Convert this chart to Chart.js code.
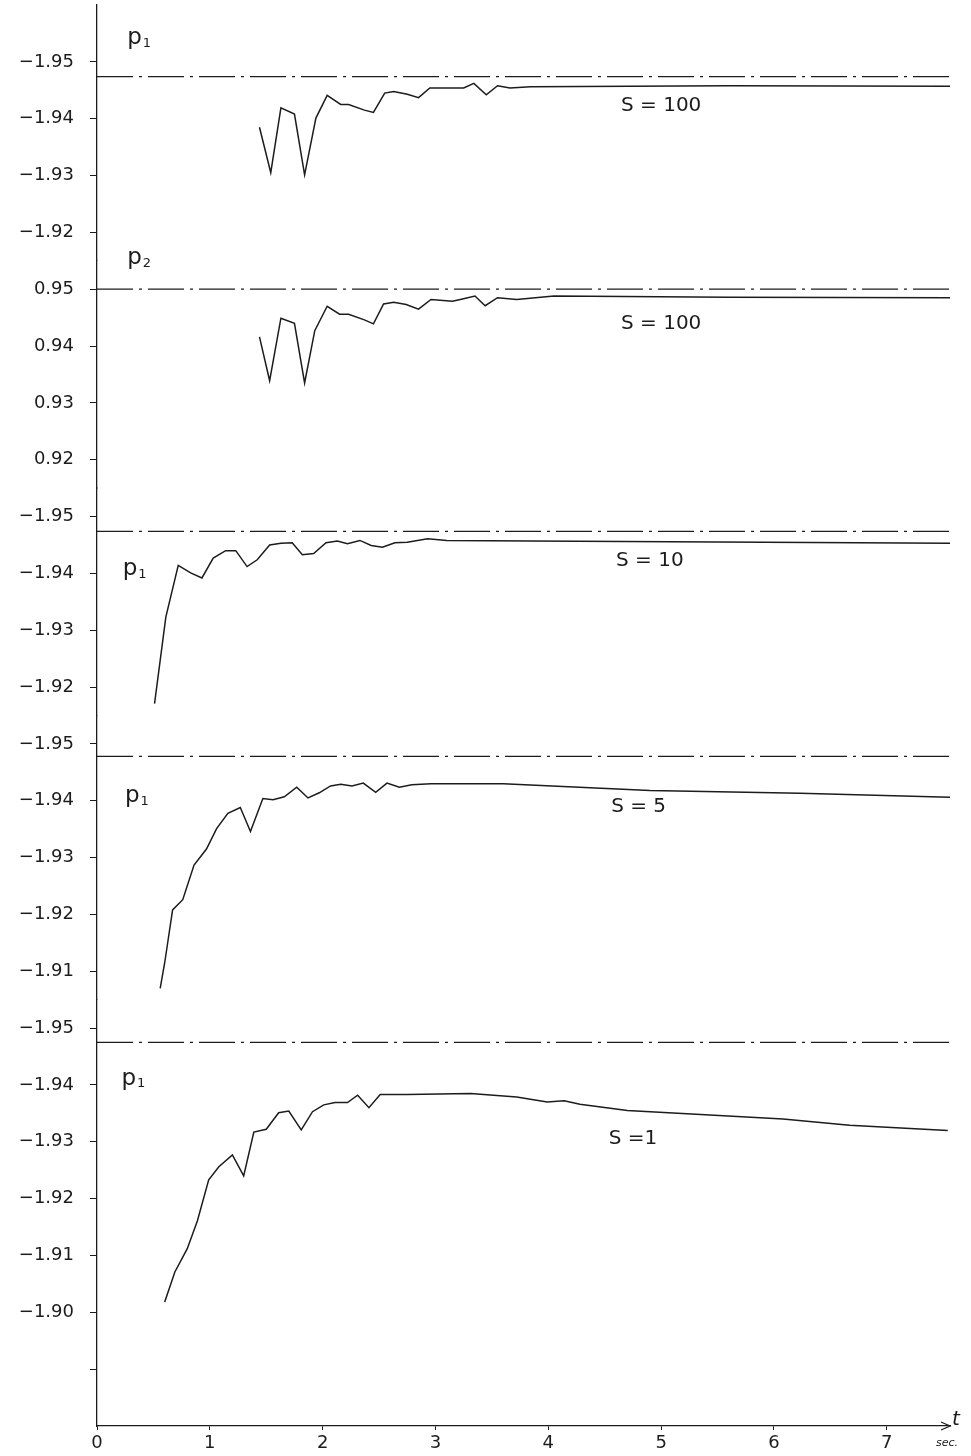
<!DOCTYPE html>
<html>
<head>
<meta charset="utf-8">
<script src="https://cdn.jsdelivr.net/npm/chart.js@4/dist/chart.umd.min.js"></script>
<style>
  html, body { margin: 0; padding: 0; background: #fff; }
  #wrap { width: 971px; height: 1456px; }
</style>
</head>
<body>
<div id="wrap"><canvas id="chart"></canvas></div>
<script>
// time axis (sec.)
const xTicks = [0, 1, 2, 3, 4, 5, 6, 7];
const xMax = 7.56;

// panel 1: p1, S = 100
const t1 = [1.44, 1.54, 1.63, 1.75, 1.84, 1.94, 2.04, 2.16, 2.23, 2.37, 2.45, 2.55, 2.63, 2.75, 2.85, 2.95, 3.25, 3.34, 3.45, 3.55, 3.66, 3.84, 5.6, 7.56];
const p1S100 = [-1.9385, -1.9305, -1.9419, -1.9408, -1.9301, -1.9401, -1.9441, -1.9425, -1.9425, -1.9415, -1.9411, -1.9445, -1.9448, -1.9443, -1.9437, -1.9454, -1.9454, -1.9462, -1.9442, -1.9458, -1.9454, -1.9456, -1.9458, -1.9457];
const ref1 = -1.9474;
const ticks1 = [-1.95, -1.94, -1.93, -1.92];
const labels1 = ['−1.95', '−1.94', '−1.93', '−1.92'];

// panel 2: p2, S = 100
const t2 = [1.44, 1.53, 1.63, 1.75, 1.84, 1.93, 2.04, 2.15, 2.23, 2.37, 2.45, 2.54, 2.63, 2.74, 2.85, 2.96, 3.15, 3.22, 3.35, 3.44, 3.55, 3.72, 4.05, 5.6, 7.56];
const p2S100 = [0.9416, 0.9339, 0.9449, 0.9440, 0.9335, 0.9427, 0.9470, 0.9456, 0.9456, 0.9446, 0.9439, 0.9474, 0.9477, 0.9473, 0.9465, 0.9482, 0.9479, 0.9482, 0.9488, 0.9471, 0.9485, 0.9482, 0.9488, 0.9486, 0.9485];
const ref2 = 0.95;
const ticks2 = [0.95, 0.94, 0.93, 0.92];
const labels2 = ['0.95', '0.94', '0.93', '0.92'];

// panel 3: p1, S = 10
const t3 = [0.51, 0.61, 0.72, 0.83, 0.93, 1.03, 1.14, 1.23, 1.33, 1.42, 1.53, 1.63, 1.73, 1.82, 1.92, 2.03, 2.13, 2.22, 2.33, 2.43, 2.53, 2.64, 2.75, 2.93, 3.10, 3.84, 7.56];
const p1S10 = [-1.9171, -1.9323, -1.9414, -1.9401, -1.9392, -1.9427, -1.9440, -1.9440, -1.9412, -1.9424, -1.9450, -1.9453, -1.9454, -1.9433, -1.9435, -1.9454, -1.9457, -1.9452, -1.9458, -1.9449, -1.9446, -1.9454, -1.9455, -1.9461, -1.9458, -1.9457, -1.9453];
const ref3 = -1.9474;
const ticks3 = [-1.95, -1.94, -1.93, -1.92];
const labels3 = ['−1.95', '−1.94', '−1.93', '−1.92'];

// panel 4: p1, S = 5
const t4 = [0.56, 0.60, 0.67, 0.76, 0.86, 0.97, 1.06, 1.16, 1.27, 1.36, 1.47, 1.56, 1.66, 1.77, 1.87, 1.97, 2.07, 2.16, 2.26, 2.36, 2.47, 2.57, 2.68, 2.79, 2.96, 3.6, 4.9, 6.23, 7.56];
const p1S5 = [-1.9070, -1.9115, -1.9208, -1.9226, -1.9287, -1.9315, -1.9351, -1.9378, -1.9388, -1.9346, -1.9404, -1.9402, -1.9407, -1.9424, -1.9405, -1.9414, -1.9426, -1.9429, -1.9426, -1.9431, -1.9415, -1.9431, -1.9424, -1.9428, -1.9430, -1.9430, -1.9418, -1.9413, -1.9406];
const ref4 = -1.9478;
const ticks4 = [-1.95, -1.94, -1.93, -1.92, -1.91];
const labels4 = ['−1.95', '−1.94', '−1.93', '−1.92', '−1.91'];

// panel 5: p1, S = 1
const t5 = [0.60, 0.69, 0.80, 0.89, 0.99, 1.08, 1.20, 1.30, 1.39, 1.50, 1.61, 1.70, 1.81, 1.91, 2.01, 2.11, 2.22, 2.31, 2.41, 2.51, 2.75, 3.31, 3.72, 3.99, 4.14, 4.28, 4.70, 5.35, 6.08, 6.67, 7.54];
const p1S1 = [-1.9018, -1.9071, -1.9112, -1.9161, -1.9233, -1.9256, -1.9277, -1.9240, -1.9317, -1.9322, -1.9351, -1.9354, -1.9321, -1.9353, -1.9365, -1.9369, -1.9369, -1.9382, -1.9360, -1.9383, -1.9383, -1.9385, -1.9379, -1.9370, -1.9372, -1.9366, -1.9355, -1.9348, -1.9340, -1.9329, -1.9320];
const ref5 = -1.9475;
const ticks5 = [-1.95, -1.94, -1.93, -1.92, -1.91, -1.90, -1.89];
const labels5 = ['−1.95', '−1.94', '−1.93', '−1.92', '−1.91', '−1.90', ''];

const INK = '#1c1c1c';
const FONT = '"DejaVu Sans", sans-serif';

// one stacked y axis per panel, top to bottom
const panels = [
  { id: 'y1', t: t1, v: p1S100, ref: ref1, ticks: ticks1, labels: labels1, min: -1.96, max: -1.915, reverse: true, share: 4.5,
    name: '1', nameAt: [0.37, -1.9534], sText: 'S = 100', sAt: [5.0, -1.9422] },
  { id: 'y2', t: t2, v: p2S100, ref: ref2, ticks: ticks2, labels: labels2, min: 0.915, max: 0.955, reverse: false, share: 4,
    name: '2', nameAt: [0.37, 0.9547], sText: 'S = 100', sAt: [5.0, 0.9440] },
  { id: 'y3', t: t3, v: p1S10, ref: ref3, ticks: ticks3, labels: labels3, min: -1.955, max: -1.915, reverse: true, share: 4,
    name: '1', nameAt: [0.33, -1.9400], sText: 'S = 10', sAt: [4.9, -1.9423] },
  { id: 'y4', t: t4, v: p1S5, ref: ref4, ticks: ticks4, labels: labels4, min: -1.955, max: -1.905, reverse: true, share: 5,
    name: '1', nameAt: [0.35, -1.9401], sText: 'S = 5', sAt: [4.8, -1.9389] },
  { id: 'y5', t: t5, v: p1S1, ref: ref5, ticks: ticks5, labels: labels5, min: -1.955, max: -1.88, reverse: true, share: 7.5,
    name: '1', nameAt: [0.32, -1.9404], sText: 'S =1', sAt: [4.75, -1.9306] },
];

const datasets = [];
const scales = {
  x: {
    type: 'linear',
    min: 0,
    max: xMax,
    afterBuildTicks: (scale) => { scale.ticks = xTicks.map(v => ({ value: v })); },
    afterFit: (scale) => {
      scale.height = 30;
      scale.paddingLeft = 0;
      scale.paddingRight = 0;
    },
    border: { display: true, color: INK, width: 1.3 },
    grid: { drawOnChartArea: false, drawTicks: true, tickLength: 4, color: INK },
    ticks: { color: INK, padding: 3, font: { family: FONT, size: 18 } },
  },
};

panels.forEach((p, i) => {
  datasets.push({
    data: p.t.map((t, k) => ({ x: t, y: p.v[k] })),
    yAxisID: p.id,
    borderColor: INK,
    borderWidth: 1.5,
    pointRadius: 0,
    tension: 0,
  });
  datasets.push({
    data: [{ x: 0, y: p.ref }, { x: xMax, y: p.ref }],
    yAxisID: p.id,
    borderColor: INK,
    borderWidth: 1.2,
    borderDash: [36, 6, 3, 6],
    pointRadius: 0,
  });
  scales[p.id] = {
    type: 'linear',
    position: 'left',
    stack: 'panels',
    stackWeight: p.share,
    weight: 10 - i,
    min: p.min,
    max: p.max,
    reverse: p.reverse,
    afterBuildTicks: (scale) => { scale.ticks = p.ticks.map(v => ({ value: v })); },
    afterFit: (scale) => {
      scale.width = 97;
      scale.paddingTop = 0;
      scale.paddingBottom = 0;
    },
    border: { display: true, color: INK, width: 1.3 },
    grid: { drawOnChartArea: false, drawTicks: true, tickLength: 7, color: INK },
    ticks: {
      color: INK,
      padding: 16,
      font: { family: FONT, size: 18 },
      callback: (value, index) => p.labels[index],
    },
  };
});

// panel names, S labels and the t-axis arrow
const notes = {
  id: 'notes',
  afterDatasetsDraw(chart) {
    const ctx = chart.ctx;
    const x = chart.scales.x;
    ctx.save();
    ctx.fillStyle = INK;
    ctx.strokeStyle = INK;
    ctx.textBaseline = 'middle';
    panels.forEach(p => {
      const y = chart.scales[p.id];
      const nx = x.getPixelForValue(p.nameAt[0]);
      const ny = y.getPixelForValue(p.nameAt[1]);
      ctx.textAlign = 'right';
      ctx.font = '23px ' + FONT;
      ctx.fillText('p', nx + 3, ny - 4);
      ctx.textAlign = 'left';
      ctx.font = '13px ' + FONT;
      ctx.fillText(p.name, nx + 4, ny + 1);
      ctx.textAlign = 'center';
      ctx.font = '20px ' + FONT;
      ctx.fillText(p.sText, x.getPixelForValue(p.sAt[0]), y.getPixelForValue(p.sAt[1]));
    });
    // arrow head at the end of the time axis
    const ax = x.right, ay = x.top;
    ctx.lineWidth = 1.3;
    ctx.beginPath();
    ctx.moveTo(ax - 9, ay - 4);
    ctx.lineTo(ax, ay);
    ctx.lineTo(ax - 9, ay + 4);
    ctx.stroke();
    ctx.textAlign = 'left';
    ctx.font = 'italic 20px ' + FONT;
    ctx.fillText('t', ax + 2, ay - 6);
    ctx.font = 'italic 11px ' + FONT;
    ctx.fillText('sec.', ax - 14, ay + 17);
    ctx.restore();
  },
};

new Chart(document.getElementById('chart'), {
  type: 'line',
  data: { datasets },
  options: {
    responsive: true,
    maintainAspectRatio: false,
    animation: false,
    devicePixelRatio: 1,
    layout: { padding: { top: 5, right: 21, left: 0, bottom: 0 } },
    plugins: { legend: { display: false }, tooltip: { enabled: false } },
    scales,
  },
  plugins: [notes],
});
</script>
</body>
</html>
